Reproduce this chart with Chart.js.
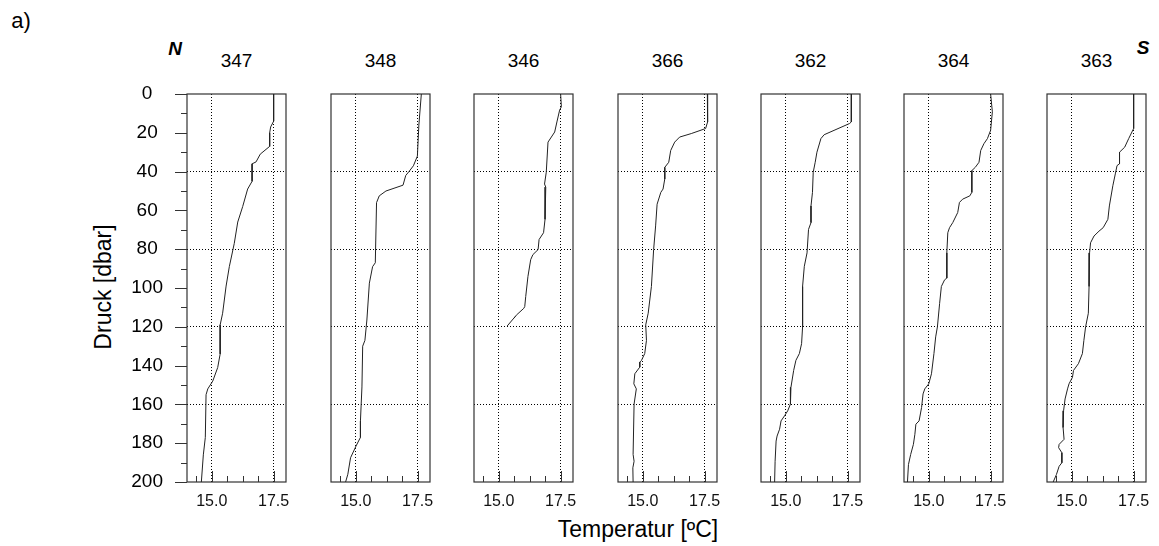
<!DOCTYPE html>
<html>
<head>
<meta charset="utf-8">
<script src="https://cdn.jsdelivr.net/npm/chart.js@4.4.1/dist/chart.umd.min.js"></script>
<style>
  html, body { margin: 0; padding: 0; background: #fff; }
  body { width: 1159px; height: 546px; position: relative; overflow: hidden;
         font-family: "Liberation Sans", Arial, sans-serif; color: #000; }
  canvas { position: absolute; }
  .lbl { position: absolute; transform: translate(-50%, -50%); line-height: 1; white-space: nowrap; }
</style>
</head>
<body>
<div class="lbl" style="left:21px;top:21px;font-size:22px;">a)</div>
<div class="lbl" style="left:175px;top:48px;font-size:19px;font-weight:bold;font-style:italic;">N</div>
<div class="lbl" style="left:1143px;top:47px;font-size:19px;font-weight:bold;font-style:italic;">S</div>
<div class="lbl" style="left:103px;top:287px;font-size:23px;transform:translate(-50%,-50%) rotate(-90deg);">Druck [dbar]</div>
<div class="lbl" style="left:638px;top:529px;font-size:23px;">Temperatur [ºC]</div>

<script>
// stations, north to south
const STATIONS = ['347', '348', '346', '366', '362', '364', '363'];

// pressure [dbar] and temperature [°C] per station
const p347 = [0, 14, 17, 20, 27, 31, 35, 36, 45, 49, 58, 66, 77, 89, 99, 113, 119, 134, 141, 148, 152, 155, 177, 186, 200];
const t347 = [17.5, 17.5, 17.38, 17.34, 17.34, 16.96, 16.79, 16.63, 16.63, 16.45, 16.25, 16.05, 15.91, 15.71, 15.58, 15.44, 15.34, 15.34, 15.24, 15.04, 14.84, 14.77, 14.74, 14.66, 14.58];

const p348 = [0, 16, 32, 37, 40, 42, 47, 50, 52.5, 56, 87, 89, 97.5, 116.5, 127, 130, 151, 168.5, 177, 181.5, 187.5, 196, 200];
const t348 = [17.65, 17.55, 17.49, 17.33, 17.15, 17.02, 16.91, 16.22, 15.95, 15.84, 15.79, 15.68, 15.55, 15.45, 15.37, 15.28, 15.25, 15.19, 15.19, 15.01, 14.79, 14.68, 14.59];

const p346 = [0, 6.6, 8.3, 14.4, 19.6, 24.8, 40.3, 46.4, 48, 64.6, 71.5, 75, 80.2, 82.8, 85.4, 94, 104.4, 109.6, 110.5, 114, 115.5, 114.8, 119.6];
const t346 = [17.5, 17.53, 17.46, 17.35, 17.26, 16.99, 16.92, 16.85, 16.9, 16.87, 16.81, 16.63, 16.59, 16.38, 16.29, 16.18, 16.09, 16.05, 16.01, 15.71, 15.62, 15.66, 15.34];

const p366 = [0, 5.7, 14.4, 17.8, 20.4, 22.2, 24.8, 29.1, 35.2, 37.8, 43.8, 49, 50.7, 56.8, 68, 80.2, 99.2, 113, 119, 127, 133.8, 137.3, 138.2, 140.8, 144.2, 149.4, 152, 159.8, 185.8, 189.3, 192.7, 200];
const t366 = [17.61, 17.63, 17.61, 17.54, 16.96, 16.49, 16.29, 16.13, 16.05, 15.89, 15.89, 15.82, 15.73, 15.58, 15.52, 15.44, 15.35, 15.22, 15.12, 15.15, 15.08, 14.95, 14.88, 14.88, 14.68, 14.64, 14.74, 14.65, 14.61, 14.65, 14.6, 14.61];

const p362 = [0, 14.4, 15.2, 21, 23, 30, 35.2, 40.3, 50.7, 57.7, 66.3, 69.8, 81.9, 88.8, 99.2, 120, 128.7, 133.8, 137.3, 142.5, 151.2, 159.8, 163.3, 165.9, 168.5, 172.8, 176.3, 178.9, 189.3, 200];
const t362 = [17.65, 17.65, 17.58, 16.55, 16.42, 16.26, 16.19, 16.11, 16.08, 16.02, 16.02, 15.92, 15.86, 15.75, 15.68, 15.68, 15.64, 15.55, 15.41, 15.32, 15.21, 15.19, 15.08, 14.95, 14.81, 14.75, 14.65, 14.61, 14.57, 14.55];

const p364 = [0, 9.2, 18.7, 23, 25.6, 29.1, 35.2, 37.8, 39.5, 50.7, 52.5, 54.2, 55.9, 61.1, 66.3, 68.9, 71.5, 81.9, 94.9, 95.8, 99.2, 107.9, 120, 125.2, 133.8, 144.2, 149.4, 152, 154.6, 161.6, 168.5, 170.2, 175.4, 180.6, 185.8, 191, 200];
const t364 = [17.5, 17.57, 17.5, 17.37, 17.23, 17.1, 17.03, 16.88, 16.74, 16.74, 16.66, 16.37, 16.24, 16.17, 15.97, 15.84, 15.77, 15.73, 15.73, 15.64, 15.51, 15.44, 15.35, 15.28, 15.21, 15.11, 15.0, 14.84, 14.77, 14.71, 14.61, 14.48, 14.44, 14.38, 14.27, 14.18, 14.14];

const p363 = [0, 17.8, 23, 27.4, 30, 36, 36.9, 41.2, 47.3, 57.7, 64.6, 68.9, 70.7, 73.2, 76.7, 81.9, 99.2, 113, 120, 127, 133.8, 139, 142.5, 146, 149.4, 152, 157.2, 163.3, 171.9, 178, 180.6, 182.3, 184.9, 190.1, 191.9, 196.2, 200];
const t363 = [17.5, 17.5, 17.3, 17.14, 16.93, 16.93, 16.83, 16.76, 16.66, 16.52, 16.46, 16.27, 16.1, 15.9, 15.76, 15.72, 15.7, 15.67, 15.56, 15.49, 15.43, 15.27, 15.07, 15.03, 14.89, 14.83, 14.73, 14.67, 14.65, 14.69, 14.49, 14.47, 14.6, 14.6, 14.49, 14.38, 14.25];

const PRESSURES = [p347, p348, p346, p366, p362, p364, p363];
const TEMPS = [t347, t348, t346, t366, t362, t364, t363];

// axes
const TEMP_LABELS = [15.0, 17.5];
const TEMP_MINOR = [14.375, 15.0, 15.625, 16.25, 16.875, 17.5];
const PRESS_GRID = [40, 80, 120, 160];

// panel geometry
const PANEL_LEFT = [187, 331, 474, 618, 761, 904, 1047];
const PANEL_W = 99, PANEL_H = 388, PANEL_TOP = 94;
const Y_AXIS_W = 70, PAD = 3, X_AXIS_H = 40;

Chart.defaults.font.family = '"Liberation Sans", Arial, sans-serif';
Chart.defaults.color = '#000';

// frame + the little tick marks
const frame = {
  id: 'frame',
  beforeDatasetsDraw(chart, args, opts) {
    const { ctx, chartArea: a, scales: { x, y } } = chart;
    ctx.save();
    ctx.strokeStyle = '#333';
    ctx.lineWidth = 1.2;
    ctx.strokeRect(a.left, a.top, a.right - a.left, a.bottom - a.top);

    ctx.lineWidth = 1;
    ctx.beginPath();
    x.ticks.forEach(t => {
      const px = Math.round(x.getPixelForValue(t.value)) + 0.5;
      const len = TEMP_LABELS.includes(t.value) ? 11 : 6;
      ctx.moveTo(px, a.bottom);
      ctx.lineTo(px, a.bottom - len);
    });
    if (opts.leftTicks) {
      y.ticks.forEach(t => {
        const py = Math.round(y.getPixelForValue(t.value)) + 0.5;
        const len = t.value % 20 === 0 ? 12 : 6;
        ctx.moveTo(a.left, py);
        ctx.lineTo(a.left - len, py);
      });
    }
    ctx.stroke();
    ctx.restore();
  }
};

STATIONS.forEach((name, i) => {
  const first = i === 0;
  const yw = first ? Y_AXIS_W : 0;
  const cv = document.createElement('canvas');
  const w = PAD + yw + PANEL_W + PAD;
  const h = 10 + PANEL_H + X_AXIS_H;
  cv.width = w; cv.height = h;
  cv.style.width = w + 'px'; cv.style.height = h + 'px';
  cv.style.left = (PANEL_LEFT[i] - PAD - yw) + 'px';
  cv.style.top = (PANEL_TOP - 10) + 'px';
  document.body.appendChild(cv);

  const lbl = document.createElement('div');
  lbl.className = 'lbl';
  lbl.style.cssText = `left:${PANEL_LEFT[i] + PANEL_W / 2}px;top:60px;font-size:19px;`;
  lbl.textContent = name;
  document.body.appendChild(lbl);

  const pts = PRESSURES[i].map((p, k) => ({ x: TEMPS[i][k], y: p }));

  new Chart(cv.getContext('2d'), {
    type: 'scatter',
    data: {
      datasets: [{
        label: name,
        data: pts,
        showLine: true,
        borderColor: '#222',
        borderWidth: 1,
        pointRadius: 0,
        tension: 0
      }]
    },
    options: {
      responsive: false,
      animation: false,
      events: [],
      layout: { padding: { left: PAD, right: PAD, top: 10, bottom: 0 } },
      plugins: {
        legend: { display: false },
        tooltip: { enabled: false },
        frame: { leftTicks: first }
      },
      scales: {
        x: {
          type: 'linear', min: 14, max: 18,
          afterBuildTicks: s => { s.ticks = TEMP_MINOR.map(v => ({ value: v })); },
          afterFit: s => { s.height = X_AXIS_H; s.paddingLeft = 0; s.paddingRight = 0; },
          grid: {
            drawTicks: false, lineWidth: 1,
            color: c => (c.tick && TEMP_LABELS.includes(c.tick.value)) ? '#000' : 'rgba(0,0,0,0)'
          },
          border: { display: false, dash: [1, 2] },
          ticks: {
            autoSkip: false, maxRotation: 0, padding: 10, color: '#111',
            font: { size: 16 },
            callback: v => TEMP_LABELS.includes(v) ? v.toFixed(1) : ''
          }
        },
        y: {
          type: 'linear', reverse: true, min: 0, max: 200,
          afterFit: s => { s.width = yw; s.paddingTop = 0; s.paddingBottom = 0; },
          grid: {
            drawTicks: false, lineWidth: 1,
            color: c => (c.tick && PRESS_GRID.includes(c.tick.value)) ? '#000' : 'rgba(0,0,0,0)'
          },
          border: { display: false, dash: [1, 2] },
          ticks: {
            display: first, stepSize: 10, autoSkip: false,
            crossAlign: 'center', padding: 24, color: '#000',
            font: { size: 19 },
            callback: v => v % 20 === 0 ? v : ''
          }
        }
      }
    },
    plugins: [frame]
  });
});
</script>
</body>
</html>
